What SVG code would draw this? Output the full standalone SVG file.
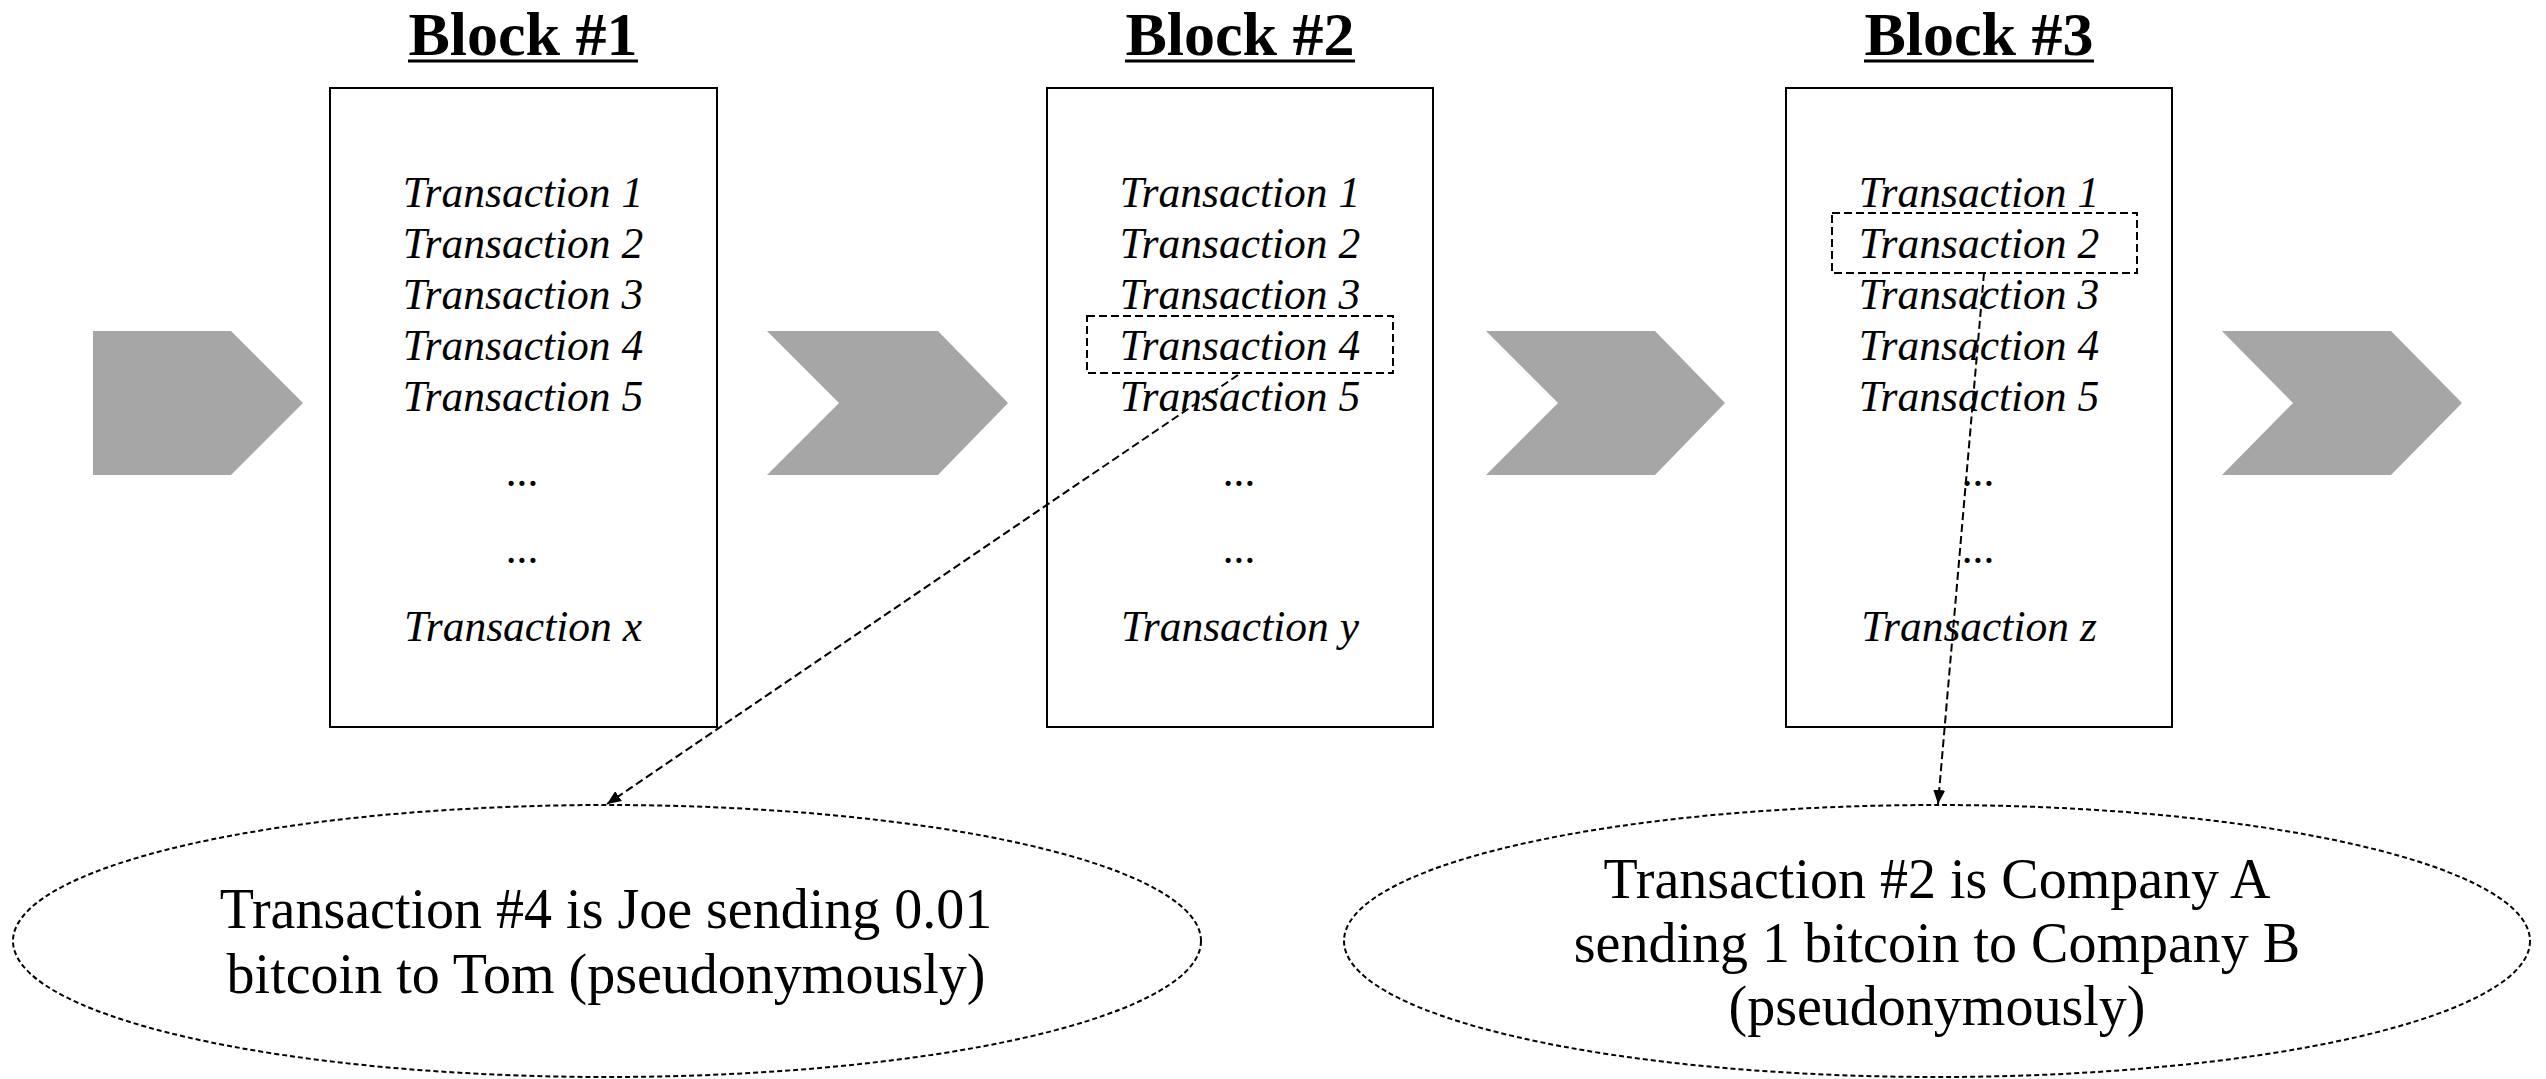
<svg xmlns="http://www.w3.org/2000/svg" width="2546" height="1079" viewBox="0 0 2546 1079">
<style>
.title{font-family:"Liberation Serif",serif;font-weight:bold;font-size:62px;fill:#000;text-anchor:middle}
.ul{stroke:#000;stroke-width:3}
.box{fill:#fff;stroke:#000;stroke-width:2}
.tx{font-family:"Liberation Serif",serif;font-style:italic;font-size:43.5px;fill:#000;text-anchor:middle}
.hl{fill:none;stroke:#000;stroke-width:2;stroke-dasharray:8 4}
.chev{fill:#A6A6A6}
.ell{fill:#fff;stroke:#000;stroke-width:2;stroke-dasharray:5 3}
.et{font-family:"Liberation Serif",serif;font-size:56px;fill:#000;text-anchor:middle}
.conn{fill:none;stroke:#000;stroke-width:2;stroke-dasharray:8 4}
</style>
<defs>
<marker id="ah" viewBox="0 0 14 12" refX="14" refY="6" markerWidth="14" markerHeight="12" markerUnits="userSpaceOnUse" orient="auto">
<path d="M0,0 L14,6 L0,12 z" fill="#000"/>
</marker>
</defs>
<rect width="2546" height="1079" fill="#fff"/>

<g id="chevrons">
<polygon class="chev" points="93,331 231,331 303,403 231,475 93,475"/>
<polygon class="chev" points="767,331 938,331 1008,403 938,475 767,475 839,403"/>
<polygon class="chev" points="1486,331 1655,331 1725,403 1655,475 1486,475 1558,403"/>
<polygon class="chev" points="2222,331 2391,331 2462,403 2391,475 2222,475 2293,403"/>
</g>

<g id="block1">
<text class="title" x="523" y="55">Block #1</text>
<line class="ul" x1="408" y1="61" x2="638" y2="61"/>
<rect class="box" x="330" y="88" width="387" height="639"/>
<text class="tx" x="523" y="207">Transaction 1</text>
<text class="tx" x="523" y="258">Transaction 2</text>
<text class="tx" x="523" y="309">Transaction 3</text>
<text class="tx" x="523" y="360">Transaction 4</text>
<text class="tx" x="523" y="411">Transaction 5</text>
<text class="tx" x="523" y="486">...</text>
<text class="tx" x="523" y="563">...</text>
<text class="tx" x="523" y="641">Transaction x</text>
</g>

<g id="block2">
<text class="title" x="1240" y="55">Block #2</text>
<line class="ul" x1="1125" y1="61" x2="1355" y2="61"/>
<rect class="box" x="1047" y="88" width="386" height="639"/>
<text class="tx" x="1240" y="207">Transaction 1</text>
<text class="tx" x="1240" y="258">Transaction 2</text>
<text class="tx" x="1240" y="309">Transaction 3</text>
<text class="tx" x="1240" y="360">Transaction 4</text>
<text class="tx" x="1240" y="411">Transaction 5</text>
<text class="tx" x="1240" y="486">...</text>
<text class="tx" x="1240" y="563">...</text>
<text class="tx" x="1240" y="641">Transaction y</text>
<rect class="hl" x="1087" y="316" width="306" height="57"/>
</g>

<g id="block3">
<text class="title" x="1979" y="55">Block #3</text>
<line class="ul" x1="1864" y1="61" x2="2094" y2="61"/>
<rect class="box" x="1786" y="88" width="386" height="639"/>
<text class="tx" x="1979" y="207">Transaction 1</text>
<text class="tx" x="1979" y="258">Transaction 2</text>
<text class="tx" x="1979" y="309">Transaction 3</text>
<text class="tx" x="1979" y="360">Transaction 4</text>
<text class="tx" x="1979" y="411">Transaction 5</text>
<text class="tx" x="1979" y="486">...</text>
<text class="tx" x="1979" y="563">...</text>
<text class="tx" x="1979" y="641">Transaction z</text>
<rect class="hl" x="1832" y="213" width="305" height="60"/>
</g>

<g id="note1">
<ellipse class="ell" cx="607" cy="941" rx="594" ry="136"/>
<text class="et" x="606" y="928">Transaction #4 is Joe sending 0.01</text>
<text class="et" x="606" y="993">bitcoin to Tom (pseudonymously)</text>
</g>

<g id="note2">
<ellipse class="ell" cx="1937" cy="941" rx="593" ry="136"/>
<text class="et" x="1937" y="898">Transaction #2 is Company A</text>
<text class="et" x="1937" y="962">sending 1 bitcoin to Company B</text>
<text class="et" x="1937" y="1025">(pseudonymously)</text>
</g>

<g id="connectors">
<line class="conn" x1="1238" y1="375" x2="607" y2="804" marker-end="url(#ah)"/>
<line class="conn" x1="1984" y1="273" x2="1938" y2="804" marker-end="url(#ah)"/>
</g>
</svg>
